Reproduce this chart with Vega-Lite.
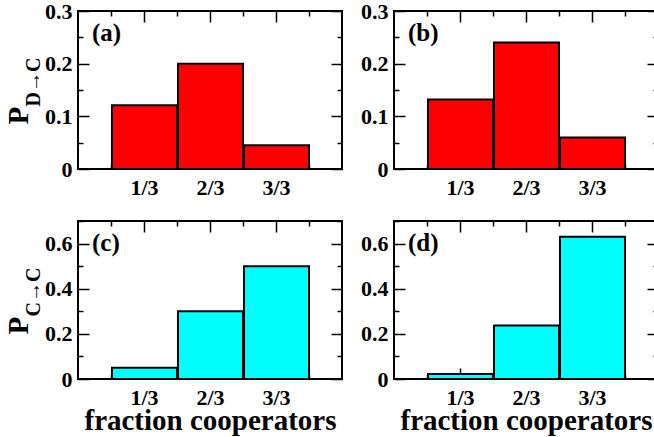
{
  "$schema": "https://vega.github.io/schema/vega-lite/v6.json",
  "background": "white",
  "padding": {"left": 3, "top": -1, "right": -5, "bottom": 0},
  "config": {
    "font": "Liberation Serif",
    "view": {"stroke": "#000", "strokeWidth": 2},
    "axis": {
      "labelFont": "Liberation Serif", "labelFontWeight": "bold", "labelColor": "#000", "labelFontSize": 22,
      "titleFont": "Liberation Serif", "titleFontWeight": "bold", "titleColor": "#000",
      "tickColor": "#000", "tickWidth": 1.5, "domain": false, "grid": false,
      "labelOverlap": false, "labelFlush": false
    },
    "title": {"font": "Liberation Serif", "fontWeight": "bold", "color": "#000", "fontSize": 25, "anchor": "start", "frame": "group", "offset": -46, "dx": 14}
  },
  "columns": 2,
  "spacing": 52,
  "bounds": "flush",
  "concat": [
    {
      "width": 264, "height": 158,
      "title": {"text": "(a)"},
      "data": {"values": [{"n": 1, "p": 0.121}, {"n": 2, "p": 0.200}, {"n": 3, "p": 0.045}]},
      "layer": [
        {
          "mark": {"type": "bar", "fill": "#ff0000", "stroke": "#000", "strokeWidth": 2},
          "encoding": {
            "x": {"field": "n", "type": "quantitative", "bin": {"anchor": 0.5, "step": 1, "extent": [0.5, 3.5], "nice": false}, "scale": {"domain": [0, 4]},
              "axis": {"orient": "bottom", "values": [0.5, 1, 1.5, 2, 2.5, 3, 3.5], "labelExpr": "datum.value % 1 == 0 ? datum.value + '/3' : ''", "tickSize": {"condition": {"test": "datum.value % 1 == 0", "value": -11}, "value": -5}, "labelPadding": 19, "title": null}},
            "y": {"field": "p", "type": "quantitative", "scale": {"domain": [0, 0.3]},
              "axis": {"orient": "left", "values": [0, 0.05, 0.1, 0.15, 0.2, 0.25, 0.3], "labelExpr": "abs(datum.value*10-round(datum.value*10))<0.001 ? (datum.value == 0 ? '0' : format(datum.value, '.1f')) : ''", "tickSize": {"condition": {"test": "abs(datum.value*10-round(datum.value*10))<0.001", "value": -11}, "value": -5}, "labelPadding": 17,
                "title": "P", "titleFontSize": 29, "titleAngle": -90, "titleX": -51, "titleY": 113, "titleAlign": "left", "titleBaseline": "alphabetic"}}
          }
        },
        {
          "mark": {"type": "bar", "opacity": 0},
          "encoding": {
            "x": {"field": "n", "type": "quantitative", "bin": {"anchor": 0.5, "step": 1, "extent": [0.5, 3.5], "nice": false}, "scale": {"domain": [0, 4]},
              "axis": {"orient": "top", "values": [0.5, 1, 1.5, 2, 2.5, 3, 3.5], "labels": false, "tickSize": {"condition": {"test": "datum.value % 1 == 0", "value": -11}, "value": -5}, "title": null}},
            "y": {"field": "p", "type": "quantitative", "scale": {"domain": [0, 0.3]},
              "axis": {"orient": "right", "values": [0, 0.05, 0.1, 0.15, 0.2, 0.25, 0.3], "labels": false, "tickSize": {"condition": {"test": "abs(datum.value*10-round(datum.value*10))<0.001", "value": -11}, "value": -5}, "title": null}}
          }
        },
        {
          "mark": {"type": "bar", "opacity": 0},
          "encoding": {
            "x": {"field": "n", "type": "quantitative", "bin": {"anchor": 0.5, "step": 1, "extent": [0.5, 3.5], "nice": false}, "scale": {"domain": [0, 4]}, "axis": null},
            "y": {"field": "p", "type": "quantitative", "scale": {"domain": [0, 0.3]},
              "axis": {"orient": "left", "ticks": false, "labels": false, "title": "D→C", "titleFontSize": 20, "titleAngle": -90, "titleX": -39, "titleY": 95, "titleAlign": "left", "titleBaseline": "alphabetic"}}
          }
        }
      ],
      "resolve": {"axis": {"x": "independent", "y": "independent"}}
    },
    {
      "width": 264, "height": 158,
      "title": {"text": "(b)"},
      "data": {"values": [{"n": 1, "p": 0.132}, {"n": 2, "p": 0.240}, {"n": 3, "p": 0.060}]},
      "layer": [
        {
          "mark": {"type": "bar", "fill": "#ff0000", "stroke": "#000", "strokeWidth": 2},
          "encoding": {
            "x": {"field": "n", "type": "quantitative", "bin": {"anchor": 0.5, "step": 1, "extent": [0.5, 3.5], "nice": false}, "scale": {"domain": [0, 4]},
              "axis": {"orient": "bottom", "values": [0.5, 1, 1.5, 2, 2.5, 3, 3.5], "labelExpr": "datum.value % 1 == 0 ? datum.value + '/3' : ''", "tickSize": {"condition": {"test": "datum.value % 1 == 0", "value": -11}, "value": -5}, "labelPadding": 19, "title": null}},
            "y": {"field": "p", "type": "quantitative", "scale": {"domain": [0, 0.3]},
              "axis": {"orient": "left", "values": [0, 0.05, 0.1, 0.15, 0.2, 0.25, 0.3], "labelExpr": "abs(datum.value*10-round(datum.value*10))<0.001 ? (datum.value == 0 ? '0' : format(datum.value, '.1f')) : ''", "tickSize": {"condition": {"test": "abs(datum.value*10-round(datum.value*10))<0.001", "value": -11}, "value": -5}, "labelPadding": 17, "title": null}}
          }
        },
        {
          "mark": {"type": "bar", "opacity": 0},
          "encoding": {
            "x": {"field": "n", "type": "quantitative", "bin": {"anchor": 0.5, "step": 1, "extent": [0.5, 3.5], "nice": false}, "scale": {"domain": [0, 4]},
              "axis": {"orient": "top", "values": [0.5, 1, 1.5, 2, 2.5, 3, 3.5], "labels": false, "tickSize": {"condition": {"test": "datum.value % 1 == 0", "value": -11}, "value": -5}, "title": null}},
            "y": {"field": "p", "type": "quantitative", "scale": {"domain": [0, 0.3]},
              "axis": {"orient": "right", "values": [0, 0.05, 0.1, 0.15, 0.2, 0.25, 0.3], "labels": false, "tickSize": {"condition": {"test": "abs(datum.value*10-round(datum.value*10))<0.001", "value": -11}, "value": -5}, "title": null}}
          }
        }
      ],
      "resolve": {"axis": {"x": "independent", "y": "independent"}}
    },
    {
      "width": 264, "height": 158,
      "title": {"text": "(c)"},
      "data": {"values": [{"n": 1, "p": 0.050}, {"n": 2, "p": 0.300}, {"n": 3, "p": 0.500}]},
      "layer": [
        {
          "mark": {"type": "bar", "fill": "#00ffff", "stroke": "#000", "strokeWidth": 2},
          "encoding": {
            "x": {"field": "n", "type": "quantitative", "bin": {"anchor": 0.5, "step": 1, "extent": [0.5, 3.5], "nice": false}, "scale": {"domain": [0, 4]},
              "axis": {"orient": "bottom", "values": [0.5, 1, 1.5, 2, 2.5, 3, 3.5], "labelExpr": "datum.value % 1 == 0 ? datum.value + '/3' : ''", "tickSize": {"condition": {"test": "datum.value % 1 == 0", "value": -11}, "value": -5}, "labelPadding": 19,
                "title": "fraction cooperators", "titleFontSize": 29, "titleY": 50, "titleBaseline": "alphabetic"}},
            "y": {"field": "p", "type": "quantitative", "scale": {"domain": [0, 0.7]},
              "axis": {"orient": "left", "values": [0, 0.1, 0.2, 0.3, 0.4, 0.5, 0.6, 0.7], "labelExpr": "abs(datum.value*5-round(datum.value*5))<0.001 ? (datum.value == 0 ? '0' : format(datum.value, '.1f')) : ''", "tickSize": {"condition": {"test": "abs(datum.value*5-round(datum.value*5))<0.001", "value": -11}, "value": -5}, "labelPadding": 17,
                "title": "P", "titleFontSize": 29, "titleAngle": -90, "titleX": -51, "titleY": 113, "titleAlign": "left", "titleBaseline": "alphabetic"}}
          }
        },
        {
          "mark": {"type": "bar", "opacity": 0},
          "encoding": {
            "x": {"field": "n", "type": "quantitative", "bin": {"anchor": 0.5, "step": 1, "extent": [0.5, 3.5], "nice": false}, "scale": {"domain": [0, 4]},
              "axis": {"orient": "top", "values": [0.5, 1, 1.5, 2, 2.5, 3, 3.5], "labels": false, "tickSize": {"condition": {"test": "datum.value % 1 == 0", "value": -11}, "value": -5}, "title": null}},
            "y": {"field": "p", "type": "quantitative", "scale": {"domain": [0, 0.7]},
              "axis": {"orient": "right", "values": [0, 0.1, 0.2, 0.3, 0.4, 0.5, 0.6, 0.7], "labels": false, "tickSize": {"condition": {"test": "abs(datum.value*5-round(datum.value*5))<0.001", "value": -11}, "value": -5}, "title": null}}
          }
        },
        {
          "mark": {"type": "bar", "opacity": 0},
          "encoding": {
            "x": {"field": "n", "type": "quantitative", "bin": {"anchor": 0.5, "step": 1, "extent": [0.5, 3.5], "nice": false}, "scale": {"domain": [0, 4]}, "axis": null},
            "y": {"field": "p", "type": "quantitative", "scale": {"domain": [0, 0.7]},
              "axis": {"orient": "left", "ticks": false, "labels": false, "title": "C→C", "titleFontSize": 20, "titleAngle": -90, "titleX": -39, "titleY": 95, "titleAlign": "left", "titleBaseline": "alphabetic"}}
          }
        }
      ],
      "resolve": {"axis": {"x": "independent", "y": "independent"}}
    },
    {
      "width": 264, "height": 158,
      "title": {"text": "(d)"},
      "data": {"values": [{"n": 1, "p": 0.022}, {"n": 2, "p": 0.237}, {"n": 3, "p": 0.630}]},
      "layer": [
        {
          "mark": {"type": "bar", "fill": "#00ffff", "stroke": "#000", "strokeWidth": 2},
          "encoding": {
            "x": {"field": "n", "type": "quantitative", "bin": {"anchor": 0.5, "step": 1, "extent": [0.5, 3.5], "nice": false}, "scale": {"domain": [0, 4]},
              "axis": {"orient": "bottom", "values": [0.5, 1, 1.5, 2, 2.5, 3, 3.5], "labelExpr": "datum.value % 1 == 0 ? datum.value + '/3' : ''", "tickSize": {"condition": {"test": "datum.value % 1 == 0", "value": -11}, "value": -5}, "labelPadding": 19,
                "title": "fraction cooperators", "titleFontSize": 29, "titleY": 50, "titleBaseline": "alphabetic"}},
            "y": {"field": "p", "type": "quantitative", "scale": {"domain": [0, 0.7]},
              "axis": {"orient": "left", "values": [0, 0.1, 0.2, 0.3, 0.4, 0.5, 0.6, 0.7], "labelExpr": "abs(datum.value*5-round(datum.value*5))<0.001 ? (datum.value == 0 ? '0' : format(datum.value, '.1f')) : ''", "tickSize": {"condition": {"test": "abs(datum.value*5-round(datum.value*5))<0.001", "value": -11}, "value": -5}, "labelPadding": 17, "title": null}}
          }
        },
        {
          "mark": {"type": "bar", "opacity": 0},
          "encoding": {
            "x": {"field": "n", "type": "quantitative", "bin": {"anchor": 0.5, "step": 1, "extent": [0.5, 3.5], "nice": false}, "scale": {"domain": [0, 4]},
              "axis": {"orient": "top", "values": [0.5, 1, 1.5, 2, 2.5, 3, 3.5], "labels": false, "tickSize": {"condition": {"test": "datum.value % 1 == 0", "value": -11}, "value": -5}, "title": null}},
            "y": {"field": "p", "type": "quantitative", "scale": {"domain": [0, 0.7]},
              "axis": {"orient": "right", "values": [0, 0.1, 0.2, 0.3, 0.4, 0.5, 0.6, 0.7], "labels": false, "tickSize": {"condition": {"test": "abs(datum.value*5-round(datum.value*5))<0.001", "value": -11}, "value": -5}, "title": null}}
          }
        }
      ],
      "resolve": {"axis": {"x": "independent", "y": "independent"}}
    }
  ]
}
